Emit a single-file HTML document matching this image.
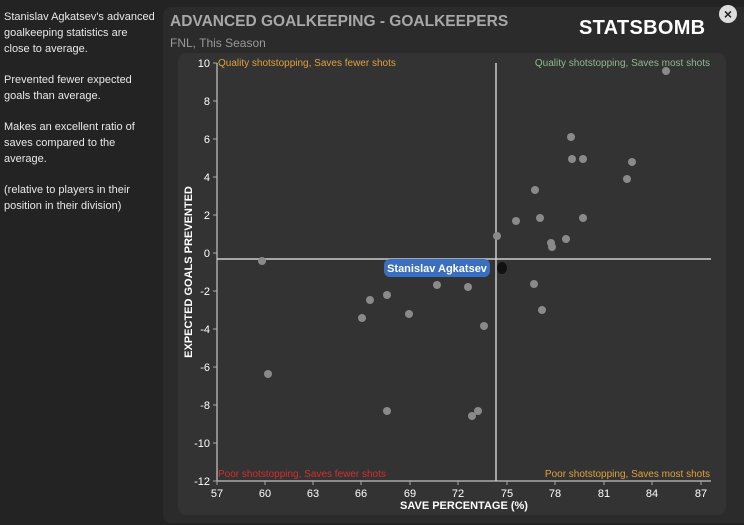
<!DOCTYPE html>
<html><head><style>
body{margin:0;width:744px;height:525px;background:#232323;overflow:hidden;font-family:"Liberation Sans",sans-serif;position:relative}
.side{position:absolute;left:4px;top:9px;width:152px;color:#e8e8e8;font-size:11px;line-height:16px}
.side p{margin:0 0 15px 0}
.panel{position:absolute;left:163px;top:7px;width:590px;height:516px;background:#2b2b2b;border-radius:8px}
.inner{position:absolute;left:178px;top:53px;width:548px;height:462px;background:#333;border-radius:8px}
.title{position:absolute;left:170px;top:13px;color:#a8a8a8;font-weight:bold;font-size:15.5px}
.sub{position:absolute;left:170px;top:36px;color:#999;font-size:12px}
.logo{position:absolute;left:579px;top:17px;color:#fff;font-weight:bold;font-size:20px;letter-spacing:0.3px}
.close{position:absolute;left:719px;top:5px;width:18px;height:18px;border-radius:50%;background:#ddd;color:#222;font-size:14px;text-align:center;line-height:18px;font-weight:bold}
</style></head><body>
<div class="side">
<p>Stanislav Agkatsev's advanced goalkeeping statistics are<br>close to average.</p>
<p>Prevented fewer expected<br>goals than average.</p>
<p>Makes an excellent ratio of<br>saves compared to the<br>average.</p>
<p>(relative to players in their<br>position in their division)</p>
</div>
<div class="panel"></div>
<div class="inner"></div>
<div class="title">ADVANCED GOALKEEPING - GOALKEEPERS</div>
<div class="sub">FNL, This Season</div>
<div class="logo">STATSBOMB</div>
<div class="close">×</div>
<svg width="744" height="525" style="position:absolute;left:0;top:0" font-family="Liberation Sans, sans-serif">
<g stroke="#aaa" stroke-width="1.5">
<line x1="217" y1="63" x2="217" y2="481"/>
<line x1="217" y1="481" x2="711" y2="481"/>
</g>
<g stroke="#aaa" stroke-width="1">
<line x1="213" y1="63" x2="217" y2="63"/><line x1="213" y1="101" x2="217" y2="101"/><line x1="213" y1="139" x2="217" y2="139"/><line x1="213" y1="177" x2="217" y2="177"/><line x1="213" y1="215" x2="217" y2="215"/><line x1="213" y1="253" x2="217" y2="253"/><line x1="213" y1="291" x2="217" y2="291"/><line x1="213" y1="329" x2="217" y2="329"/><line x1="213" y1="367" x2="217" y2="367"/><line x1="213" y1="405" x2="217" y2="405"/><line x1="213" y1="443" x2="217" y2="443"/><line x1="213" y1="481" x2="217" y2="481"/>
<line x1="217" y1="481" x2="217" y2="485"/><line x1="265" y1="481" x2="265" y2="485"/><line x1="313" y1="481" x2="313" y2="485"/><line x1="361" y1="481" x2="361" y2="485"/><line x1="410" y1="481" x2="410" y2="485"/><line x1="458" y1="481" x2="458" y2="485"/><line x1="507" y1="481" x2="507" y2="485"/><line x1="555" y1="481" x2="555" y2="485"/><line x1="604" y1="481" x2="604" y2="485"/><line x1="652" y1="481" x2="652" y2="485"/><line x1="701" y1="481" x2="701" y2="485"/>
</g>
<g fill="#fff" font-size="11" text-anchor="end">
<text x="210" y="67">10</text><text x="210" y="105">8</text><text x="210" y="143">6</text><text x="210" y="181">4</text><text x="210" y="219">2</text><text x="210" y="257">0</text><text x="210" y="295">-2</text><text x="210" y="333">-4</text><text x="210" y="371">-6</text><text x="210" y="409">-8</text><text x="210" y="447">-10</text><text x="210" y="485">-12</text>
</g>
<g fill="#fff" font-size="11" text-anchor="middle">
<text x="217" y="497">57</text><text x="265" y="497">60</text><text x="313" y="497">63</text><text x="361" y="497">66</text><text x="410" y="497">69</text><text x="458" y="497">72</text><text x="507" y="497">75</text><text x="555" y="497">78</text><text x="604" y="497">81</text><text x="652" y="497">84</text><text x="701" y="497">87</text>
</g>
<text x="464" y="509" fill="#fff" font-size="11" font-weight="bold" text-anchor="middle">SAVE PERCENTAGE (%)</text>
<text transform="translate(192,272) rotate(-90)" fill="#fff" font-size="11" font-weight="bold" text-anchor="middle">EXPECTED GOALS PREVENTED</text>
<text x="218" y="66" fill="#e0a040" font-size="10">Quality shotstopping, Saves fewer shots</text>
<text x="710" y="66" fill="#8fb88f" font-size="10" text-anchor="end">Quality shotstopping, Saves most shots</text>
<text x="218" y="477" fill="#d03030" font-size="10">Poor shotstopping, Saves fewer shots</text>
<text x="710" y="477" fill="#e0a040" font-size="10" text-anchor="end">Poor shotstopping, Saves most shots</text>
<g stroke="#ccc" stroke-width="1.5">
<line x1="496" y1="63" x2="496" y2="481"/>
<line x1="217" y1="259" x2="711" y2="259"/>
</g>
<g fill="#8a8a8a">
<circle cx="262" cy="261" r="4"/><circle cx="268" cy="374" r="4"/><circle cx="370" cy="300" r="4"/><circle cx="362" cy="318" r="4"/><circle cx="387" cy="295" r="4"/><circle cx="387" cy="411" r="4"/><circle cx="409" cy="314" r="4"/><circle cx="437" cy="285" r="4"/><circle cx="468" cy="287" r="4"/><circle cx="484" cy="326" r="4"/><circle cx="472" cy="416" r="4"/><circle cx="478" cy="411" r="4"/><circle cx="497" cy="236" r="4"/><circle cx="516" cy="221" r="4"/><circle cx="534" cy="284" r="4"/><circle cx="535" cy="190" r="4"/><circle cx="540" cy="218" r="4"/><circle cx="542" cy="310" r="4"/><circle cx="551" cy="243" r="4"/><circle cx="552" cy="247" r="4"/><circle cx="566" cy="239" r="4"/><circle cx="571" cy="137" r="4"/><circle cx="572" cy="159" r="4"/><circle cx="583" cy="159" r="4"/><circle cx="583" cy="218" r="4"/><circle cx="627" cy="179" r="4"/><circle cx="632" cy="162" r="4"/><circle cx="666" cy="71" r="4"/>
</g>
<ellipse cx="502" cy="268" rx="5" ry="6" fill="#111"/>
<rect x="384" y="259" width="106" height="18" rx="6" fill="#3a6fc0"/>
<text x="437" y="272" fill="#fff" font-size="11" font-weight="bold" text-anchor="middle">Stanislav Agkatsev</text>
</svg>
</body></html>
